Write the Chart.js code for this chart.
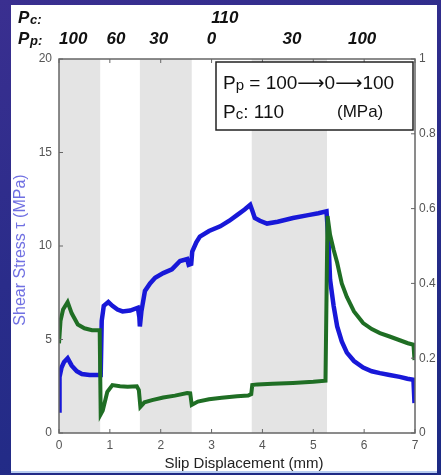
<!DOCTYPE html>
<html>
<head>
<meta charset="utf-8">
<script src="https://cdn.jsdelivr.net/npm/chart.js@4.4.0/dist/chart.umd.min.js"></script>
<style>
  html, body { margin: 0; padding: 0; }
  body {
    width: 441px; height: 475px; overflow: hidden; position: relative;
    background: linear-gradient(160deg, #3a2f90 0%, #2a2c8a 45%, #1c2a84 100%);
  }
  #panel { position: absolute; left: 11px; top: 5px; width: 426px; height: 466px; background: #fff; border-bottom: 2px solid #b8cdf0; }
  #chart { position: absolute; left: 0; top: 0; }
</style>
</head>
<body>
<div id="panel"></div>
<canvas id="chart" width="441" height="475"></canvas>
<script>
// slip displacement (mm) / shear stress (MPa) - blue, left axis
const stressX = [0.00, 0.01, 0.05, 0.10, 0.17, 0.25, 0.35, 0.45, 0.60, 0.80,
  0.82, 0.84, 0.88, 0.97, 1.05, 1.15, 1.25, 1.40, 1.55, 1.58, 1.59, 1.62, 1.69, 1.79, 1.89,
  2.05, 2.22, 2.38, 2.52, 2.55, 2.60, 2.62, 2.70, 2.77, 2.95, 3.17, 3.35, 3.50, 3.65, 3.76,
  3.80, 3.85, 3.95, 4.09, 4.30, 4.60, 4.90, 5.10, 5.26, 5.30, 5.33, 5.40, 5.47, 5.56, 5.66,
  5.80, 5.98, 6.15, 6.31, 6.50, 6.70, 6.85, 6.97, 6.99];
const stressY = [1.2, 3.0, 3.5, 3.8, 4.0, 3.6, 3.3, 3.15, 3.1, 3.1,
  3.1, 6.0, 6.8, 7.0, 6.8, 6.6, 6.5, 6.55, 6.7, 6.2, 5.7, 6.5, 7.6, 8.0, 8.3,
  8.55, 8.75, 9.2, 9.3, 9.0, 9.05, 9.7, 10.2, 10.5, 10.8, 11.05, 11.35, 11.65, 11.95, 12.2,
  11.9, 11.5, 11.35, 11.2, 11.3, 11.5, 11.65, 11.75, 11.85, 10.2, 8.2, 6.8, 5.7, 4.9, 4.3,
  3.85, 3.5, 3.3, 3.2, 3.1, 3.0, 2.9, 2.85, 1.6];

// friction coefficient - green, right axis
const frictionX = [0.00, 0.03, 0.08, 0.17, 0.25, 0.37, 0.50, 0.65, 0.80,
  0.82, 0.86, 0.95, 1.05, 1.20, 1.35, 1.53, 1.57, 1.60, 1.68, 1.83, 2.05, 2.28, 2.52,
  2.58, 2.61, 2.73, 2.95, 3.20, 3.50, 3.72, 3.78, 3.80, 3.90, 4.20, 4.60, 5.00, 5.24,
  5.28, 5.33, 5.40, 5.47, 5.56, 5.66, 5.80, 5.98, 6.15, 6.31, 6.50, 6.70, 6.86, 6.97, 6.99];
const frictionY = [0.24, 0.30, 0.33, 0.35, 0.32, 0.29, 0.28, 0.275, 0.275,
  0.05, 0.06, 0.11, 0.128, 0.125, 0.124, 0.125, 0.115, 0.07, 0.082, 0.088, 0.095, 0.10, 0.107,
  0.106, 0.075, 0.084, 0.09, 0.094, 0.098, 0.10, 0.104, 0.128, 0.13, 0.132, 0.134, 0.137, 0.14,
  0.58, 0.53, 0.49, 0.455, 0.40, 0.364, 0.325, 0.294, 0.278, 0.267, 0.258, 0.248, 0.24, 0.236, 0.195];

// shaded pore pressure stages (mm)
const shadedBands = [[0, 0.81], [1.59, 2.61], [3.79, 5.27]];

const xTicks = [0, 1, 2, 3, 4, 5, 6, 7];
const stressTicks = [0, 5, 10, 15, 20];
const frictionTicks = [0, 0.2, 0.4, 0.6, 0.8, 1];

// top annotation labels (x in mm)
const pcLabels = ['110'];
const pcLabelX = [3.26];
const ppLabels = ['100', '60', '30', '0', '30', '100'];
const ppLabelX = [0.28, 1.12, 1.96, 3.0, 4.58, 5.96];

const FONT = "'Liberation Sans', Arial, sans-serif";
const ARROW_FONT = "'Liberation Sans', 'DejaVu Sans', sans-serif";

function toPoints(xs, ys) {
  return xs.map((x, i) => ({ x: x, y: ys[i] }));
}

function subText(ctx, x, y, big, small, rest, size) {
  ctx.font = size + 'px ' + ARROW_FONT;
  ctx.fillText(big, x, y);
  x += ctx.measureText(big).width;
  ctx.font = Math.round(size * 0.78) + 'px ' + ARROW_FONT;
  ctx.fillText(small, x, y + 1);
  x += ctx.measureText(small).width;
  ctx.font = size + 'px ' + ARROW_FONT;
  ctx.fillText(rest, x, y);
}

const decor = {
  id: 'decor',
  beforeDatasetsDraw(chart) {
    const { ctx, chartArea: a, scales } = chart;
    ctx.save();
    ctx.fillStyle = '#e4e4e4';
    shadedBands.forEach(b => {
      const x0 = scales.x.getPixelForValue(b[0]);
      const x1 = scales.x.getPixelForValue(b[1]);
      ctx.fillRect(x0, a.top, x1 - x0, a.bottom - a.top);
    });
    ctx.restore();
  },
  afterDatasetsDraw(chart) {
    const { ctx, chartArea: a, scales } = chart;
    ctx.save();

    // frame
    ctx.strokeStyle = '#666';
    ctx.lineWidth = 1.5;
    ctx.strokeRect(a.left, a.top, a.right - a.left, a.bottom - a.top);

    // inward ticks
    ctx.lineWidth = 1;
    ctx.beginPath();
    xTicks.forEach(v => {
      const px = scales.x.getPixelForValue(v);
      ctx.moveTo(px, a.bottom); ctx.lineTo(px, a.bottom - 4);
      ctx.moveTo(px, a.top); ctx.lineTo(px, a.top + 4);
    });
    stressTicks.forEach(v => {
      const py = scales.y.getPixelForValue(v);
      ctx.moveTo(a.left, py); ctx.lineTo(a.left + 4, py);
    });
    frictionTicks.forEach(v => {
      const py = scales.y1.getPixelForValue(v);
      ctx.moveTo(a.right, py); ctx.lineTo(a.right - 4, py);
    });
    ctx.stroke();

    // legend box
    const bx = 216, by = 62, bw = a.right - 2 - bx, bh = 68;
    ctx.fillStyle = '#fff';
    ctx.fillRect(bx, by, bw, bh);
    ctx.strokeStyle = '#222';
    ctx.lineWidth = 1.5;
    ctx.strokeRect(bx, by, bw, bh);
    ctx.fillStyle = '#111';
    ctx.textBaseline = 'alphabetic';
    ctx.textAlign = 'left';
    subText(ctx, 223, 89, 'P', 'p', ' = 100\u27F60\u27F6100', 19);
    subText(ctx, 223, 118, 'P', 'c', ': 110', 19);
    ctx.font = '17px ' + FONT;
    ctx.fillText('(MPa)', 337, 117);

    // top labels
    ctx.fillStyle = '#111';
    ctx.font = 'italic bold 17px ' + FONT;
    ctx.fillText('P', 18, 23);
    ctx.fillText('P', 18, 44);
    ctx.font = 'italic bold 13px ' + FONT;
    ctx.fillText('c:', 30, 24);
    ctx.fillText('p:', 30, 45);
    ctx.font = 'italic bold 17px ' + FONT;
    ctx.textAlign = 'center';
    pcLabels.forEach((t, i) => ctx.fillText(t, scales.x.getPixelForValue(pcLabelX[i]), 23));
    ppLabels.forEach((t, i) => ctx.fillText(t, scales.x.getPixelForValue(ppLabelX[i]), 44));

    // axis titles
    ctx.fillStyle = '#222';
    ctx.font = '15px ' + FONT;
    ctx.textBaseline = 'middle';
    ctx.fillText('Slip Displacement (mm)', (a.left + a.right) / 2 + 7, 464);

    ctx.translate(21, 250);
    ctx.rotate(-Math.PI / 2);
    ctx.fillStyle = '#7070e2';
    ctx.font = '16px ' + FONT;
    ctx.fillText('Shear Stress \u03C4 (MPa)', 0, 0);

    ctx.restore();
  }
};

const tickFont = { family: FONT, size: 12 };
const fmt = v => String(+Number(v).toFixed(1));

new Chart(document.getElementById('chart'), {
  type: 'line',
  data: {
    datasets: [{
      label: 'Friction coefficient',
      data: toPoints(frictionX, frictionY),
      yAxisID: 'y1',
      borderColor: '#1f6e24',
      borderWidth: 4,
      pointRadius: 0,
      tension: 0,
      fill: false
    }, {
      label: 'Shear stress',
      data: toPoints(stressX, stressY),
      yAxisID: 'y',
      borderColor: '#1818d8',
      borderWidth: 4.5,
      pointRadius: 0,
      tension: 0,
      fill: false
    }]
  },
  options: {
    responsive: false,
    animation: false,
    layout: { padding: { top: 59, left: 0, right: 0, bottom: 0 } },
    plugins: {
      legend: { display: false },
      tooltip: { enabled: false }
    },
    scales: {
      x: {
        type: 'linear', min: 0, max: 7,
        afterBuildTicks: s => { s.ticks = xTicks.map(v => ({ value: v })); },
        afterFit: s => { s.height = 42; },
        grid: { display: false, drawTicks: false },
        border: { display: false },
        ticks: { color: '#555', font: tickFont, padding: 5, callback: fmt }
      },
      y: {
        position: 'left', min: 0, max: 20,
        afterBuildTicks: s => { s.ticks = stressTicks.map(v => ({ value: v })); },
        afterFit: s => { s.width = 59; },
        grid: { display: false, drawTicks: false },
        border: { display: false },
        ticks: { color: '#555', font: tickFont, padding: 7, callback: fmt }
      },
      y1: {
        position: 'right', min: 0, max: 1,
        afterBuildTicks: s => { s.ticks = frictionTicks.map(v => ({ value: v })); },
        afterFit: s => { s.width = 26; },
        grid: { display: false, drawTicks: false },
        border: { display: false },
        ticks: { color: '#555', font: tickFont, padding: 4, callback: fmt }
      }
    }
  },
  plugins: [decor]
});
</script>
</body>
</html>
